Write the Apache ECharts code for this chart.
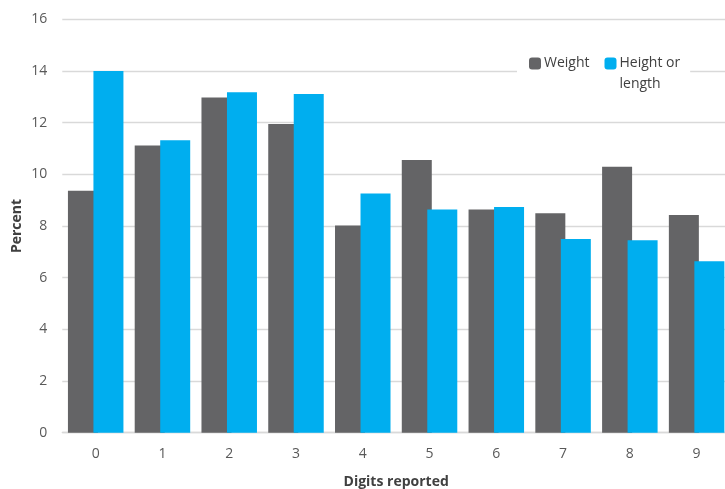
<!DOCTYPE html>
<html><head><meta charset="utf-8">
<script src="https://cdn.jsdelivr.net/npm/echarts@6/dist/echarts.min.js"></script>
<style>html,body{margin:0;padding:0;background:#fff}#c{width:725px;height:489px}</style>
</head><body><div id="c"></div>
<script>
const categories = ['0','1','2','3','4','5','6','7','8','9'];
const weight = [9.36, 11.12, 12.97, 11.95, 8.02, 10.55, 8.64, 8.49, 10.29, 8.43];
const heightOrLength = [14.0, 11.32, 13.18, 13.11, 9.26, 8.64, 8.74, 7.50, 7.45, 6.64];
const seriesNames = ['Weight', 'Height or length'];

const chart = echarts.init(document.getElementById('c'));
const font = 'Open Sans';
chart.setOption({
  animation: false,
  textStyle: { fontFamily: font },
  grid: { left: 62.3, right: -5, top: 19.3, bottom: 56.3, outerBoundsMode: 'none', containLabel: false },
  legend: {
    data: seriesNames,
    left: 517, top: 26,
    padding: [6, 10, 6, 12],
    backgroundColor: '#ffffff',
    itemWidth: 12, itemHeight: 12, itemGap: 15,
    textStyle: { fontFamily: font, fontSize: 14, color: '#404040', lineHeight: 21, padding: [0,0,0,-2] },
    formatter: n => n === 'Height or length' ? '\nHeight or\nlength' : n,
    align: 'left'
  },
  xAxis: {
    type: 'category', data: categories,
    name: 'Digits reported', nameLocation: 'middle', nameGap: 42, nameMoveOverlap: false,
    nameTextStyle: { fontFamily: font, fontWeight: 'bold', fontSize: 14, color: '#404040' },
    axisLine: { lineStyle: { color: '#d9d9d9', width: 1.3 } },
    axisTick: { show: false },
    axisLabel: { fontFamily: font, fontSize: 14, color: '#595959', margin: 14 }
  },
  yAxis: {
    type: 'value', min: 0, max: 16, interval: 2,
    name: 'Percent', nameLocation: 'middle', nameGap: 38, nameRotate: 90, nameMoveOverlap: false,
    nameTextStyle: { fontFamily: font, fontWeight: 'bold', fontSize: 14, color: '#404040' },
    axisLine: { show: false }, axisTick: { show: false },
    axisLabel: { fontFamily: font, fontSize: 14, color: '#595959', margin: 15 },
    splitLine: { lineStyle: { color: '#d9d9d9', width: 1.3 } }
  },
  series: [
    { name: seriesNames[0], type: 'bar', data: weight, barWidth: 30, barGap: '-15%',
      itemStyle: { color: '#646466' } },
    { name: seriesNames[1], type: 'bar', data: heightOrLength, barWidth: 30, barGap: '-15%',
      itemStyle: { color: '#00aeef' } }
  ]
});
</script></body></html>
